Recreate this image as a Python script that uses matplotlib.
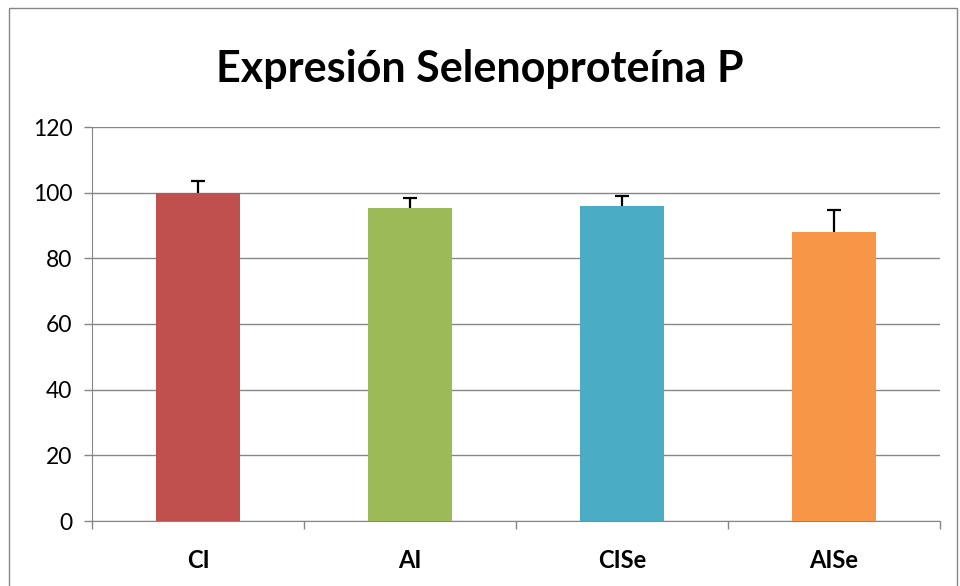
import matplotlib.pyplot as plt
from matplotlib.patches import Rectangle

categories = ["CI", "AI", "CISe", "AISe"]
values = [100.0, 95.3, 96.0, 88.0]
errors = [3.7, 3.0, 3.0, 6.7]
colors = ["#C0504D", "#9BBB59", "#4BACC6", "#F79646"]

plt.rcParams["font.family"] = ["Lato", "DejaVu Sans"]

fig = plt.figure(figsize=(9.6, 5.86), dpi=100)
ax = fig.add_axes([92 / 960, 1 - 521 / 586, (940 - 92) / 960, (521 - 127) / 586])

x = list(range(len(categories)))
ax.bar(x, values, width=0.4, color=colors, zorder=3)

# upper-only error bars (plus side)
tops = [v + e for v, e in zip(values, errors)]
ax.vlines(x, values, tops, color="black", linewidth=1.6, zorder=4)
ax.hlines(tops, [i - 0.033 for i in x], [i + 0.033 for i in x],
          color="black", linewidth=1.6, zorder=4)

ax.set_xlim(-0.5, 3.5)
ax.set_ylim(0, 120)
ax.set_yticks(range(0, 121, 20))
ax.set_xticks(x)
ax.set_xticklabels(categories, fontsize=17, fontweight="bold")
ax.tick_params(axis="x", length=0, pad=20)
ax.set_xticks([-0.5, 0.5, 1.5, 2.5, 3.5], minor=True)
ax.tick_params(axis="x", which="minor", length=6, color="#868686", width=1)
ax.tick_params(axis="y", labelsize=16.5, length=6, color="#868686", width=1, pad=8)
ax.yaxis.grid(True, color="#868686", linewidth=1, zorder=0)
for s in ["top", "right"]:
    ax.spines[s].set_visible(False)
for s in ["left", "bottom"]:
    ax.spines[s].set_color("#868686")

fig.text(0.5, 1 - 82 / 586, "Expresión Selenoproteína P", ha="center", va="baseline",
         fontsize=31, fontweight="bold")

# outer chart border
fig.add_artist(Rectangle((9 / 960, -0.01), (957 - 9) / 960, 1 - 8 / 586 + 0.01,
                         transform=fig.transFigure, fill=False,
                         edgecolor="#868686", linewidth=1))

fig.savefig("out.png", dpi=100)
